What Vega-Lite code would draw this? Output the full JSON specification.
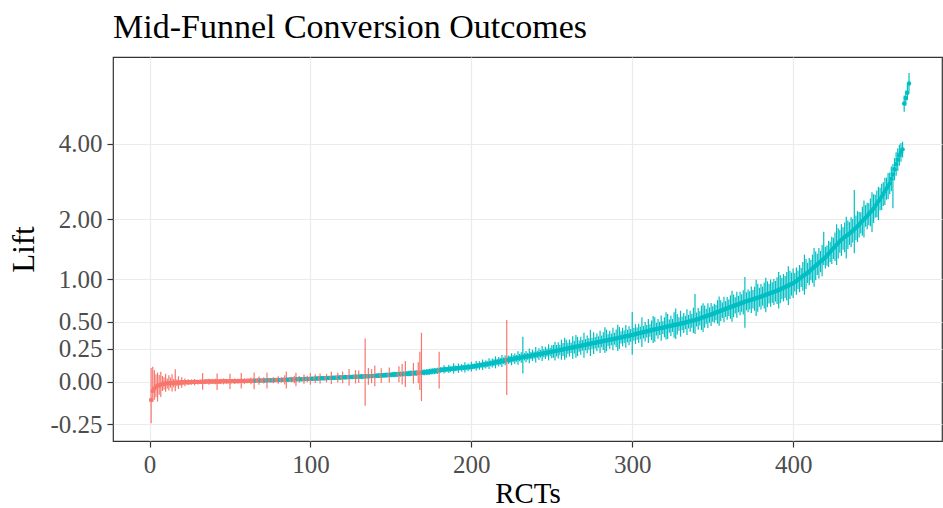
{
  "$schema": "https://vega.github.io/schema/vega-lite/v6.json",
  "width": 829,
  "height": 384,
  "autosize": {"type": "none"},
  "padding": {"left": 113, "top": 57, "right": 1, "bottom": 67},
  "background": "white",
  "title": {
    "text": "Mid-Funnel Conversion Outcomes",
    "anchor": "start",
    "frame": "group",
    "font": "Liberation Serif",
    "fontSize": 34,
    "fontWeight": "normal",
    "color": "#000000",
    "baseline": "alphabetic",
    "offset": 19,
    "dy": 34
  },
  "config": {
    "view": {"stroke": "#333333", "strokeWidth": 1.2},
    "axis": {
      "labelFont": "Liberation Serif",
      "labelFontSize": 25,
      "labelColor": "#4D4D4D",
      "titleFont": "Liberation Serif",
      "titleFontSize": 31,
      "titleFontWeight": "normal",
      "titleColor": "#000000",
      "tickColor": "#333333",
      "tickSize": 6,
      "tickWidth": 1.2,
      "domain": false,
      "gridColor": "#EBEBEB",
      "gridWidth": 1.2,
      "labelPadding": 5,
      "labelFlush": false,
      "labelOverlap": false
    }
  },
  "data": {"values": [
    {"rct":1,"lift":-0.116,"lo":-0.245,"hi":0.097},
    {"rct":2,"lift":-0.060,"lo":-0.128,"hi":0.106},
    {"rct":3,"lift":-0.044,"lo":-0.115,"hi":0.080},
    {"rct":4,"lift":-0.034,"lo":-0.100,"hi":0.052},
    {"rct":5,"lift":-0.027,"lo":-0.125,"hi":0.064},
    {"rct":6,"lift":-0.023,"lo":-0.085,"hi":0.047},
    {"rct":7,"lift":-0.019,"lo":-0.098,"hi":0.070},
    {"rct":8,"lift":-0.016,"lo":-0.060,"hi":0.040},
    {"rct":9,"lift":-0.014,"lo":-0.052,"hi":0.030},
    {"rct":10,"lift":-0.012,"lo":-0.066,"hi":0.056},
    {"rct":11,"lift":-0.011,"lo":-0.045,"hi":0.022},
    {"rct":12,"lift":-0.010,"lo":-0.058,"hi":0.045},
    {"rct":13,"lift":-0.009,"lo":-0.040,"hi":0.028},
    {"rct":14,"lift":-0.008,"lo":-0.064,"hi":0.052},
    {"rct":15,"lift":-0.008,"lo":-0.036,"hi":0.018},
    {"rct":16,"lift":-0.007,"lo":-0.062,"hi":0.088},
    {"rct":17,"lift":-0.006,"lo":-0.030,"hi":0.015},
    {"rct":18,"lift":-0.006,"lo":-0.048,"hi":0.038},
    {"rct":19,"lift":-0.005,"lo":-0.026,"hi":0.012},
    {"rct":20,"lift":-0.005,"lo":-0.040,"hi":0.031},
    {"rct":21,"lift":-0.004,"lo":-0.018,"hi":0.010},
    {"rct":22,"lift":-0.004,"lo":-0.030,"hi":0.022},
    {"rct":23,"lift":-0.003,"lo":-0.015,"hi":0.009},
    {"rct":24,"lift":-0.003,"lo":-0.022,"hi":0.016},
    {"rct":25,"lift":-0.003,"lo":-0.014,"hi":0.008},
    {"rct":26,"lift":-0.002,"lo":-0.020,"hi":0.015},
    {"rct":27,"lift":-0.002,"lo":-0.013,"hi":0.009},
    {"rct":28,"lift":-0.002,"lo":-0.024,"hi":0.019},
    {"rct":29,"lift":-0.001,"lo":-0.012,"hi":0.010},
    {"rct":30,"lift":-0.001,"lo":-0.018,"hi":0.014},
    {"rct":31,"lift":-0.001,"lo":-0.011,"hi":0.009},
    {"rct":32,"lift":0.000,"lo":-0.015,"hi":0.013},
    {"rct":33,"lift":0.000,"lo":-0.052,"hi":0.060},
    {"rct":34,"lift":0.000,"lo":-0.012,"hi":0.011},
    {"rct":35,"lift":0.001,"lo":-0.016,"hi":0.017},
    {"rct":36,"lift":0.001,"lo":-0.010,"hi":0.012},
    {"rct":37,"lift":0.001,"lo":-0.020,"hi":0.021},
    {"rct":38,"lift":0.001,"lo":-0.011,"hi":0.012},
    {"rct":39,"lift":0.001,"lo":-0.014,"hi":0.016},
    {"rct":40,"lift":0.002,"lo":-0.009,"hi":0.013},
    {"rct":41,"lift":0.002,"lo":-0.017,"hi":0.020},
    {"rct":42,"lift":0.002,"lo":-0.054,"hi":0.058},
    {"rct":43,"lift":0.002,"lo":-0.010,"hi":0.014},
    {"rct":44,"lift":0.002,"lo":-0.015,"hi":0.019},
    {"rct":45,"lift":0.003,"lo":-0.008,"hi":0.013},
    {"rct":46,"lift":0.003,"lo":-0.018,"hi":0.022},
    {"rct":47,"lift":0.003,"lo":-0.009,"hi":0.015},
    {"rct":48,"lift":0.003,"lo":-0.013,"hi":0.018},
    {"rct":49,"lift":0.003,"lo":-0.006,"hi":0.012},
    {"rct":50,"lift":0.003,"lo":-0.048,"hi":0.056},
    {"rct":51,"lift":0.004,"lo":-0.011,"hi":0.018},
    {"rct":52,"lift":0.004,"lo":-0.007,"hi":0.014},
    {"rct":53,"lift":0.004,"lo":-0.016,"hi":0.022},
    {"rct":54,"lift":0.004,"lo":-0.006,"hi":0.013},
    {"rct":55,"lift":0.004,"lo":-0.012,"hi":0.020},
    {"rct":56,"lift":0.005,"lo":-0.008,"hi":0.017},
    {"rct":57,"lift":0.005,"lo":-0.045,"hi":0.060},
    {"rct":58,"lift":0.005,"lo":-0.006,"hi":0.015},
    {"rct":59,"lift":0.005,"lo":-0.014,"hi":0.023},
    {"rct":60,"lift":0.005,"lo":-0.004,"hi":0.014},
    {"rct":61,"lift":0.006,"lo":-0.010,"hi":0.021},
    {"rct":62,"lift":0.006,"lo":-0.005,"hi":0.016},
    {"rct":63,"lift":0.006,"lo":-0.017,"hi":0.028},
    {"rct":64,"lift":0.006,"lo":-0.003,"hi":0.015},
    {"rct":65,"lift":0.007,"lo":-0.050,"hi":0.065},
    {"rct":66,"lift":0.0075,"lo":0.002,"hi":0.013},
    {"rct":67,"lift":0.0078,"lo":-0.006,"hi":0.022},
    {"rct":68,"lift":0.0080,"lo":-0.020,"hi":0.036},
    {"rct":69,"lift":0.0083,"lo":0.003,"hi":0.014},
    {"rct":70,"lift":0.0085,"lo":-0.004,"hi":0.021},
    {"rct":71,"lift":0.0088,"lo":-0.012,"hi":0.030},
    {"rct":72,"lift":0.0090,"lo":0.003,"hi":0.015},
    {"rct":73,"lift":0.0093,"lo":-0.045,"hi":0.064},
    {"rct":74,"lift":0.0096,"lo":0.004,"hi":0.015},
    {"rct":75,"lift":0.0100,"lo":-0.005,"hi":0.025},
    {"rct":76,"lift":0.0103,"lo":0.004,"hi":0.017},
    {"rct":77,"lift":0.0107,"lo":-0.010,"hi":0.031},
    {"rct":78,"lift":0.0110,"lo":0.005,"hi":0.017},
    {"rct":79,"lift":0.0113,"lo":-0.003,"hi":0.026},
    {"rct":80,"lift":0.0117,"lo":-0.014,"hi":0.037},
    {"rct":81,"lift":0.0120,"lo":0.005,"hi":0.019},
    {"rct":82,"lift":0.0124,"lo":-0.006,"hi":0.031},
    {"rct":83,"lift":0.0128,"lo":0.006,"hi":0.020},
    {"rct":84,"lift":0.0132,"lo":-0.018,"hi":0.044},
    {"rct":85,"lift":0.0136,"lo":-0.045,"hi":0.072},
    {"rct":86,"lift":0.0140,"lo":0.006,"hi":0.022},
    {"rct":87,"lift":0.0144,"lo":0.007,"hi":0.022},
    {"rct":88,"lift":0.0148,"lo":-0.004,"hi":0.034},
    {"rct":89,"lift":0.0152,"lo":0.007,"hi":0.024},
    {"rct":90,"lift":0.0156,"lo":-0.010,"hi":0.041},
    {"rct":91,"lift":0.0160,"lo":-0.030,"hi":0.062},
    {"rct":92,"lift":0.0164,"lo":0.008,"hi":0.025},
    {"rct":93,"lift":0.0168,"lo":-0.006,"hi":0.040},
    {"rct":94,"lift":0.0172,"lo":0.009,"hi":0.026},
    {"rct":95,"lift":0.0176,"lo":0.008,"hi":0.027},
    {"rct":96,"lift":0.0180,"lo":-0.014,"hi":0.050},
    {"rct":97,"lift":0.0185,"lo":0.009,"hi":0.028},
    {"rct":98,"lift":0.0190,"lo":-0.003,"hi":0.041},
    {"rct":99,"lift":0.0195,"lo":0.010,"hi":0.029},
    {"rct":100,"lift":0.0200,"lo":-0.020,"hi":0.060},
    {"rct":101,"lift":0.0205,"lo":0.011,"hi":0.030},
    {"rct":102,"lift":0.0210,"lo":0.010,"hi":0.032},
    {"rct":103,"lift":0.0215,"lo":-0.008,"hi":0.051},
    {"rct":104,"lift":0.0220,"lo":0.012,"hi":0.032},
    {"rct":105,"lift":0.0225,"lo":0.011,"hi":0.034},
    {"rct":106,"lift":0.0230,"lo":-0.012,"hi":0.058},
    {"rct":107,"lift":0.0235,"lo":0.013,"hi":0.034},
    {"rct":108,"lift":0.0240,"lo":0.012,"hi":0.036},
    {"rct":109,"lift":0.0245,"lo":0.014,"hi":0.035},
    {"rct":110,"lift":0.0250,"lo":-0.004,"hi":0.054},
    {"rct":111,"lift":0.0255,"lo":0.014,"hi":0.037},
    {"rct":112,"lift":0.0260,"lo":0.013,"hi":0.039},
    {"rct":113,"lift":0.0265,"lo":-0.016,"hi":0.070},
    {"rct":114,"lift":0.0270,"lo":0.015,"hi":0.039},
    {"rct":115,"lift":0.0275,"lo":0.016,"hi":0.039},
    {"rct":116,"lift":0.0280,"lo":0.014,"hi":0.042},
    {"rct":117,"lift":0.0285,"lo":-0.006,"hi":0.063},
    {"rct":118,"lift":0.0290,"lo":0.017,"hi":0.041},
    {"rct":119,"lift":0.0295,"lo":0.016,"hi":0.043},
    {"rct":120,"lift":0.0300,"lo":-0.010,"hi":0.072},
    {"rct":121,"lift":0.0305,"lo":0.018,"hi":0.043},
    {"rct":122,"lift":0.0310,"lo":0.017,"hi":0.045},
    {"rct":123,"lift":0.0315,"lo":0.019,"hi":0.044},
    {"rct":124,"lift":0.0320,"lo":-0.025,"hi":0.090},
    {"rct":125,"lift":0.0325,"lo":0.019,"hi":0.046},
    {"rct":126,"lift":0.0330,"lo":0.020,"hi":0.046},
    {"rct":127,"lift":0.0335,"lo":0.018,"hi":0.049},
    {"rct":128,"lift":0.0340,"lo":-0.012,"hi":0.081},
    {"rct":129,"lift":0.0345,"lo":0.021,"hi":0.048},
    {"rct":130,"lift":0.0350,"lo":-0.008,"hi":0.079},
    {"rct":131,"lift":0.0355,"lo":0.022,"hi":0.049},
    {"rct":132,"lift":0.0360,"lo":0.021,"hi":0.051},
    {"rct":133,"lift":0.0365,"lo":0.023,"hi":0.050},
    {"rct":134,"lift":0.0370,"lo":-0.150,"hi":0.340},
    {"rct":135,"lift":0.0375,"lo":0.023,"hi":0.052},
    {"rct":136,"lift":0.0380,"lo":-0.020,"hi":0.098},
    {"rct":137,"lift":0.0385,"lo":0.024,"hi":0.053},
    {"rct":138,"lift":0.0390,"lo":-0.010,"hi":0.089},
    {"rct":139,"lift":0.0395,"lo":0.025,"hi":0.054},
    {"rct":140,"lift":0.0400,"lo":-0.030,"hi":0.115},
    {"rct":141,"lift":0.0408,"lo":0.026,"hi":0.056},
    {"rct":142,"lift":0.0416,"lo":0.027,"hi":0.057},
    {"rct":143,"lift":0.0424,"lo":0.026,"hi":0.059},
    {"rct":144,"lift":0.0432,"lo":-0.008,"hi":0.096},
    {"rct":145,"lift":0.0440,"lo":0.028,"hi":0.060},
    {"rct":146,"lift":0.0448,"lo":0.029,"hi":0.061},
    {"rct":147,"lift":0.0456,"lo":0.028,"hi":0.064},
    {"rct":148,"lift":0.0464,"lo":0.030,"hi":0.063},
    {"rct":149,"lift":0.0472,"lo":-0.005,"hi":0.101},
    {"rct":150,"lift":0.0480,"lo":0.031,"hi":0.065},
    {"rct":151,"lift":0.0488,"lo":0.032,"hi":0.066},
    {"rct":152,"lift":0.0496,"lo":0.031,"hi":0.069},
    {"rct":153,"lift":0.0504,"lo":0.033,"hi":0.068},
    {"rct":154,"lift":0.0512,"lo":0.034,"hi":0.069},
    {"rct":155,"lift":0.0520,"lo":-0.004,"hi":0.110},
    {"rct":156,"lift":0.0528,"lo":0.035,"hi":0.071},
    {"rct":157,"lift":0.0536,"lo":-0.018,"hi":0.128},
    {"rct":158,"lift":0.0544,"lo":0.036,"hi":0.073},
    {"rct":159,"lift":0.0552,"lo":-0.035,"hi":0.150},
    {"rct":160,"lift":0.0560,"lo":0.037,"hi":0.075},
    {"rct":161,"lift":0.0568,"lo":0.038,"hi":0.076},
    {"rct":162,"lift":0.0576,"lo":0.037,"hi":0.079},
    {"rct":163,"lift":0.0584,"lo":0.039,"hi":0.078},
    {"rct":164,"lift":0.0592,"lo":-0.012,"hi":0.135},
    {"rct":165,"lift":0.0600,"lo":0.040,"hi":0.080},
    {"rct":166,"lift":0.0610,"lo":0.041,"hi":0.081},
    {"rct":167,"lift":0.0620,"lo":-0.010,"hi":0.140},
    {"rct":168,"lift":0.0630,"lo":-0.055,"hi":0.225},
    {"rct":169,"lift":0.0640,"lo":-0.122,"hi":0.392},
    {"rct":170,"lift":0.0650,"lo":0.044,"hi":0.086},
    {"rct":171,"lift":0.0660,"lo":0.045,"hi":0.087},
    {"rct":172,"lift":0.0670,"lo":0.046,"hi":0.088},
    {"rct":173,"lift":0.0685,"lo":0.047,"hi":0.090},
    {"rct":174,"lift":0.0700,"lo":0.048,"hi":0.092},
    {"rct":175,"lift":0.0715,"lo":0.050,"hi":0.093},
    {"rct":176,"lift":0.0730,"lo":0.051,"hi":0.095},
    {"rct":177,"lift":0.0745,"lo":0.052,"hi":0.097},
    {"rct":178,"lift":0.0760,"lo":0.054,"hi":0.098},
    {"rct":179,"lift":0.0775,"lo":0.055,"hi":0.100},
    {"rct":180,"lift":0.0790,"lo":-0.044,"hi":0.225},
    {"rct":181,"lift":0.083,"lo":0.062,"hi":0.104},
    {"rct":182,"lift":0.085,"lo":0.070,"hi":0.099},
    {"rct":183,"lift":0.086,"lo":0.058,"hi":0.118},
    {"rct":184,"lift":0.087,"lo":0.066,"hi":0.106},
    {"rct":185,"lift":0.088,"lo":0.072,"hi":0.103},
    {"rct":186,"lift":0.089,"lo":0.060,"hi":0.121},
    {"rct":187,"lift":0.090,"lo":0.069,"hi":0.110},
    {"rct":188,"lift":0.091,"lo":0.075,"hi":0.108},
    {"rct":189,"lift":0.093,"lo":0.057,"hi":0.133},
    {"rct":190,"lift":0.094,"lo":0.073,"hi":0.115},
    {"rct":191,"lift":0.095,"lo":0.078,"hi":0.112},
    {"rct":192,"lift":0.096,"lo":0.062,"hi":0.132},
    {"rct":193,"lift":0.098,"lo":0.080,"hi":0.116},
    {"rct":194,"lift":0.099,"lo":0.070,"hi":0.128},
    {"rct":195,"lift":0.100,"lo":0.083,"hi":0.118},
    {"rct":196,"lift":0.101,"lo":0.065,"hi":0.140},
    {"rct":197,"lift":0.103,"lo":0.084,"hi":0.121},
    {"rct":198,"lift":0.104,"lo":0.076,"hi":0.131},
    {"rct":199,"lift":0.105,"lo":0.087,"hi":0.123},
    {"rct":200,"lift":0.107,"lo":0.072,"hi":0.145},
    {"rct":201,"lift":0.109,"lo":0.088,"hi":0.130},
    {"rct":202,"lift":0.111,"lo":0.091,"hi":0.131},
    {"rct":203,"lift":0.113,"lo":0.078,"hi":0.150},
    {"rct":204,"lift":0.115,"lo":0.094,"hi":0.135},
    {"rct":205,"lift":0.117,"lo":0.085,"hi":0.149},
    {"rct":206,"lift":0.119,"lo":0.099,"hi":0.139},
    {"rct":207,"lift":0.121,"lo":0.082,"hi":0.162},
    {"rct":208,"lift":0.123,"lo":0.101,"hi":0.145},
    {"rct":209,"lift":0.125,"lo":0.094,"hi":0.157},
    {"rct":210,"lift":0.127,"lo":0.106,"hi":0.149},
    {"rct":211,"lift":0.130,"lo":0.090,"hi":0.172},
    {"rct":212,"lift":0.132,"lo":0.110,"hi":0.155},
    {"rct":213,"lift":0.135,"lo":0.101,"hi":0.170},
    {"rct":214,"lift":0.137,"lo":0.112,"hi":0.163},
    {"rct":215,"lift":0.140,"lo":0.095,"hi":0.187},
    {"rct":216,"lift":0.142,"lo":0.118,"hi":0.167},
    {"rct":217,"lift":0.145,"lo":0.109,"hi":0.182},
    {"rct":218,"lift":0.147,"lo":0.122,"hi":0.173},
    {"rct":219,"lift":0.150,"lo":0.104,"hi":0.198},
    {"rct":220,"lift":0.152,"lo":0.127,"hi":0.178},
    {"rct":221,"lift":0.155,"lo":0.118,"hi":0.193},
    {"rct":222,"lift":0.158,"lo":-0.086,"hi":0.517},
    {"rct":223,"lift":0.160,"lo":0.128,"hi":0.193},
    {"rct":224,"lift":0.162,"lo":0.135,"hi":0.190},
    {"rct":225,"lift":0.164,"lo":0.118,"hi":0.212},
    {"rct":226,"lift":0.167,"lo":0.140,"hi":0.195},
    {"rct":227,"lift":0.169,"lo":0.128,"hi":0.211},
    {"rct":228,"lift":0.171,"lo":0.145,"hi":0.198},
    {"rct":229,"lift":0.174,"lo":0.121,"hi":0.229},
    {"rct":230,"lift":0.176,"lo":0.148,"hi":0.205},
    {"rct":231,"lift":0.178,"lo":0.136,"hi":0.221},
    {"rct":232,"lift":0.181,"lo":0.058,"hi":0.356},
    {"rct":233,"lift":0.183,"lo":0.154,"hi":0.213},
    {"rct":234,"lift":0.185,"lo":0.141,"hi":0.231},
    {"rct":235,"lift":0.188,"lo":0.160,"hi":0.217},
    {"rct":236,"lift":0.190,"lo":0.132,"hi":0.251},
    {"rct":237,"lift":0.192,"lo":0.163,"hi":0.222},
    {"rct":238,"lift":0.195,"lo":0.150,"hi":0.242},
    {"rct":239,"lift":0.197,"lo":0.168,"hi":0.227},
    {"rct":240,"lift":0.200,"lo":0.139,"hi":0.264},
    {"rct":241,"lift":0.202,"lo":0.172,"hi":0.233},
    {"rct":242,"lift":0.205,"lo":0.158,"hi":0.254},
    {"rct":243,"lift":0.207,"lo":0.176,"hi":0.239},
    {"rct":244,"lift":0.210,"lo":0.150,"hi":0.273},
    {"rct":245,"lift":0.212,"lo":0.180,"hi":0.245},
    {"rct":246,"lift":0.215,"lo":0.165,"hi":0.267},
    {"rct":247,"lift":0.217,"lo":0.184,"hi":0.251},
    {"rct":248,"lift":0.220,"lo":0.155,"hi":0.288},
    {"rct":249,"lift":0.222,"lo":0.188,"hi":0.257},
    {"rct":250,"lift":0.225,"lo":0.172,"hi":0.280},
    {"rct":251,"lift":0.228,"lo":0.176,"hi":0.283},
    {"rct":252,"lift":0.230,"lo":0.155,"hi":0.310},
    {"rct":253,"lift":0.233,"lo":0.186,"hi":0.281},
    {"rct":254,"lift":0.236,"lo":0.170,"hi":0.305},
    {"rct":255,"lift":0.239,"lo":0.196,"hi":0.283},
    {"rct":256,"lift":0.241,"lo":0.160,"hi":0.328},
    {"rct":257,"lift":0.244,"lo":0.190,"hi":0.300},
    {"rct":258,"lift":0.247,"lo":0.160,"hi":0.345},
    {"rct":259,"lift":0.249,"lo":0.175,"hi":0.329},
    {"rct":260,"lift":0.252,"lo":0.205,"hi":0.301},
    {"rct":261,"lift":0.255,"lo":0.185,"hi":0.330},
    {"rct":262,"lift":0.258,"lo":0.214,"hi":0.303},
    {"rct":263,"lift":0.261,"lo":0.168,"hi":0.360},
    {"rct":264,"lift":0.264,"lo":0.210,"hi":0.320},
    {"rct":265,"lift":0.267,"lo":0.175,"hi":0.372},
    {"rct":266,"lift":0.269,"lo":0.190,"hi":0.354},
    {"rct":267,"lift":0.272,"lo":0.225,"hi":0.321},
    {"rct":268,"lift":0.275,"lo":0.200,"hi":0.355},
    {"rct":269,"lift":0.278,"lo":0.232,"hi":0.326},
    {"rct":270,"lift":0.281,"lo":0.176,"hi":0.393},
    {"rct":271,"lift":0.284,"lo":0.236,"hi":0.334},
    {"rct":272,"lift":0.287,"lo":0.212,"hi":0.367},
    {"rct":273,"lift":0.290,"lo":0.241,"hi":0.341},
    {"rct":274,"lift":0.293,"lo":0.190,"hi":0.420},
    {"rct":275,"lift":0.296,"lo":0.247,"hi":0.347},
    {"rct":276,"lift":0.298,"lo":0.205,"hi":0.398},
    {"rct":277,"lift":0.301,"lo":0.251,"hi":0.353},
    {"rct":278,"lift":0.304,"lo":0.228,"hi":0.385},
    {"rct":279,"lift":0.307,"lo":0.257,"hi":0.359},
    {"rct":280,"lift":0.310,"lo":0.215,"hi":0.412},
    {"rct":281,"lift":0.313,"lo":0.262,"hi":0.366},
    {"rct":282,"lift":0.316,"lo":0.240,"hi":0.397},
    {"rct":283,"lift":0.319,"lo":0.215,"hi":0.445},
    {"rct":284,"lift":0.322,"lo":0.228,"hi":0.422},
    {"rct":285,"lift":0.325,"lo":0.272,"hi":0.380},
    {"rct":286,"lift":0.328,"lo":0.250,"hi":0.410},
    {"rct":287,"lift":0.331,"lo":0.280,"hi":0.384},
    {"rct":288,"lift":0.334,"lo":0.236,"hi":0.440},
    {"rct":289,"lift":0.337,"lo":0.284,"hi":0.392},
    {"rct":290,"lift":0.340,"lo":0.262,"hi":0.423},
    {"rct":291,"lift":0.343,"lo":0.230,"hi":0.470},
    {"rct":292,"lift":0.346,"lo":0.250,"hi":0.448},
    {"rct":293,"lift":0.349,"lo":0.294,"hi":0.406},
    {"rct":294,"lift":0.353,"lo":0.270,"hi":0.440},
    {"rct":295,"lift":0.356,"lo":0.300,"hi":0.413},
    {"rct":296,"lift":0.359,"lo":0.258,"hi":0.466},
    {"rct":297,"lift":0.362,"lo":0.305,"hi":0.421},
    {"rct":298,"lift":0.365,"lo":0.280,"hi":0.455},
    {"rct":299,"lift":0.368,"lo":0.310,"hi":0.428},
    {"rct":300,"lift":0.372,"lo":0.199,"hi":0.602},
    {"rct":301,"lift":0.376,"lo":0.318,"hi":0.437},
    {"rct":302,"lift":0.380,"lo":0.290,"hi":0.475},
    {"rct":303,"lift":0.383,"lo":0.327,"hi":0.442},
    {"rct":304,"lift":0.387,"lo":0.300,"hi":0.480},
    {"rct":305,"lift":0.391,"lo":0.333,"hi":0.452},
    {"rct":306,"lift":0.394,"lo":0.265,"hi":0.545},
    {"rct":307,"lift":0.398,"lo":0.340,"hi":0.459},
    {"rct":308,"lift":0.402,"lo":0.312,"hi":0.497},
    {"rct":309,"lift":0.405,"lo":0.348,"hi":0.466},
    {"rct":310,"lift":0.409,"lo":0.300,"hi":0.527},
    {"rct":311,"lift":0.413,"lo":0.355,"hi":0.474},
    {"rct":312,"lift":0.416,"lo":0.325,"hi":0.512},
    {"rct":313,"lift":0.420,"lo":0.300,"hi":0.560},
    {"rct":314,"lift":0.423,"lo":0.310,"hi":0.545},
    {"rct":315,"lift":0.427,"lo":0.367,"hi":0.490},
    {"rct":316,"lift":0.431,"lo":0.338,"hi":0.529},
    {"rct":317,"lift":0.434,"lo":0.372,"hi":0.499},
    {"rct":318,"lift":0.438,"lo":0.320,"hi":0.565},
    {"rct":319,"lift":0.441,"lo":0.380,"hi":0.505},
    {"rct":320,"lift":0.445,"lo":0.350,"hi":0.545},
    {"rct":321,"lift":0.449,"lo":0.330,"hi":0.600},
    {"rct":322,"lift":0.452,"lo":0.335,"hi":0.580},
    {"rct":323,"lift":0.456,"lo":0.392,"hi":0.522},
    {"rct":324,"lift":0.459,"lo":0.362,"hi":0.562},
    {"rct":325,"lift":0.463,"lo":0.400,"hi":0.529},
    {"rct":326,"lift":0.466,"lo":0.345,"hi":0.598},
    {"rct":327,"lift":0.470,"lo":0.335,"hi":0.640},
    {"rct":328,"lift":0.473,"lo":0.375,"hi":0.578},
    {"rct":329,"lift":0.477,"lo":0.412,"hi":0.545},
    {"rct":330,"lift":0.480,"lo":0.356,"hi":0.615},
    {"rct":331,"lift":0.484,"lo":0.418,"hi":0.553},
    {"rct":332,"lift":0.488,"lo":0.390,"hi":0.592},
    {"rct":333,"lift":0.492,"lo":0.426,"hi":0.561},
    {"rct":334,"lift":0.497,"lo":0.372,"hi":0.632},
    {"rct":335,"lift":0.501,"lo":0.433,"hi":0.572},
    {"rct":336,"lift":0.505,"lo":0.402,"hi":0.614},
    {"rct":337,"lift":0.509,"lo":0.440,"hi":0.581},
    {"rct":338,"lift":0.513,"lo":0.390,"hi":0.648},
    {"rct":339,"lift":0.518,"lo":0.380,"hi":0.810},
    {"rct":340,"lift":0.522,"lo":0.452,"hi":0.596},
    {"rct":341,"lift":0.528,"lo":0.420,"hi":0.645},
    {"rct":342,"lift":0.534,"lo":0.462,"hi":0.610},
    {"rct":343,"lift":0.540,"lo":0.418,"hi":0.673},
    {"rct":344,"lift":0.546,"lo":0.400,"hi":0.700},
    {"rct":345,"lift":0.552,"lo":0.440,"hi":0.673},
    {"rct":346,"lift":0.557,"lo":0.480,"hi":0.638},
    {"rct":347,"lift":0.563,"lo":0.438,"hi":0.700},
    {"rct":348,"lift":0.569,"lo":0.490,"hi":0.652},
    {"rct":349,"lift":0.575,"lo":0.458,"hi":0.702},
    {"rct":350,"lift":0.581,"lo":0.500,"hi":0.666},
    {"rct":351,"lift":0.588,"lo":0.490,"hi":0.693},
    {"rct":352,"lift":0.595,"lo":0.515,"hi":0.679},
    {"rct":353,"lift":0.601,"lo":0.480,"hi":0.735},
    {"rct":354,"lift":0.608,"lo":0.460,"hi":0.780},
    {"rct":355,"lift":0.615,"lo":0.505,"hi":0.733},
    {"rct":356,"lift":0.622,"lo":0.538,"hi":0.709},
    {"rct":357,"lift":0.629,"lo":0.495,"hi":0.775},
    {"rct":358,"lift":0.635,"lo":0.550,"hi":0.723},
    {"rct":359,"lift":0.642,"lo":0.520,"hi":0.773},
    {"rct":360,"lift":0.649,"lo":0.560,"hi":0.742},
    {"rct":361,"lift":0.656,"lo":0.530,"hi":0.792},
    {"rct":362,"lift":0.662,"lo":0.500,"hi":0.850},
    {"rct":363,"lift":0.669,"lo":0.545,"hi":0.803},
    {"rct":364,"lift":0.676,"lo":0.585,"hi":0.771},
    {"rct":365,"lift":0.682,"lo":0.540,"hi":0.836},
    {"rct":366,"lift":0.689,"lo":0.598,"hi":0.785},
    {"rct":367,"lift":0.696,"lo":0.568,"hi":0.835},
    {"rct":368,"lift":0.703,"lo":0.605,"hi":0.805},
    {"rct":369,"lift":0.709,"lo":0.575,"hi":0.855},
    {"rct":370,"lift":0.716,"lo":0.440,"hi":1.030},
    {"rct":371,"lift":0.722,"lo":0.620,"hi":0.830},
    {"rct":372,"lift":0.728,"lo":0.600,"hi":0.866},
    {"rct":373,"lift":0.734,"lo":0.630,"hi":0.844},
    {"rct":374,"lift":0.740,"lo":0.590,"hi":0.904},
    {"rct":375,"lift":0.747,"lo":0.640,"hi":0.859},
    {"rct":376,"lift":0.753,"lo":0.615,"hi":0.901},
    {"rct":377,"lift":0.759,"lo":0.560,"hi":0.990},
    {"rct":378,"lift":0.765,"lo":0.605,"hi":0.940},
    {"rct":379,"lift":0.771,"lo":0.660,"hi":0.888},
    {"rct":380,"lift":0.777,"lo":0.630,"hi":0.935},
    {"rct":381,"lift":0.784,"lo":0.672,"hi":0.902},
    {"rct":382,"lift":0.792,"lo":0.640,"hi":0.955},
    {"rct":383,"lift":0.799,"lo":0.600,"hi":1.020},
    {"rct":384,"lift":0.806,"lo":0.655,"hi":0.970},
    {"rct":385,"lift":0.813,"lo":0.695,"hi":0.938},
    {"rct":386,"lift":0.821,"lo":0.660,"hi":0.995},
    {"rct":387,"lift":0.828,"lo":0.705,"hi":0.958},
    {"rct":388,"lift":0.835,"lo":0.680,"hi":1.002},
    {"rct":389,"lift":0.843,"lo":0.718,"hi":0.975},
    {"rct":390,"lift":0.850,"lo":0.690,"hi":1.025},
    {"rct":391,"lift":0.859,"lo":0.640,"hi":1.100},
    {"rct":392,"lift":0.869,"lo":0.700,"hi":1.052},
    {"rct":393,"lift":0.878,"lo":0.748,"hi":1.015},
    {"rct":394,"lift":0.888,"lo":0.720,"hi":1.070},
    {"rct":395,"lift":0.897,"lo":0.760,"hi":1.042},
    {"rct":396,"lift":0.906,"lo":0.730,"hi":1.100},
    {"rct":397,"lift":0.916,"lo":0.680,"hi":1.180},
    {"rct":398,"lift":0.925,"lo":0.750,"hi":1.115},
    {"rct":399,"lift":0.935,"lo":0.790,"hi":1.090},
    {"rct":400,"lift":0.944,"lo":0.760,"hi":1.150},
    {"rct":401,"lift":0.960,"lo":0.840,"hi":1.085},
    {"rct":402,"lift":0.976,"lo":0.800,"hi":1.165},
    {"rct":403,"lift":0.992,"lo":0.870,"hi":1.120},
    {"rct":404,"lift":1.008,"lo":0.830,"hi":1.200},
    {"rct":405,"lift":1.024,"lo":0.895,"hi":1.160},
    {"rct":406,"lift":1.041,"lo":0.850,"hi":1.245},
    {"rct":407,"lift":1.057,"lo":0.800,"hi":1.360},
    {"rct":408,"lift":1.073,"lo":0.870,"hi":1.290},
    {"rct":409,"lift":1.089,"lo":0.950,"hi":1.235},
    {"rct":410,"lift":1.106,"lo":0.920,"hi":1.305},
    {"rct":411,"lift":1.127,"lo":0.985,"hi":1.278},
    {"rct":412,"lift":1.148,"lo":0.950,"hi":1.360},
    {"rct":413,"lift":1.169,"lo":0.900,"hi":1.470},
    {"rct":414,"lift":1.190,"lo":0.985,"hi":1.410},
    {"rct":415,"lift":1.211,"lo":1.055,"hi":1.375},
    {"rct":416,"lift":1.232,"lo":1.010,"hi":1.470},
    {"rct":417,"lift":1.253,"lo":1.095,"hi":1.420},
    {"rct":418,"lift":1.274,"lo":1.040,"hi":1.520},
    {"rct":419,"lift":1.295,"lo":1.200,"hi":1.755},
    {"rct":420,"lift":1.316,"lo":1.150,"hi":1.490},
    {"rct":421,"lift":1.345,"lo":1.190,"hi":1.510},
    {"rct":422,"lift":1.375,"lo":1.170,"hi":1.590},
    {"rct":423,"lift":1.404,"lo":1.245,"hi":1.575},
    {"rct":424,"lift":1.434,"lo":1.215,"hi":1.665},
    {"rct":425,"lift":1.464,"lo":1.290,"hi":1.645},
    {"rct":426,"lift":1.493,"lo":1.260,"hi":1.740},
    {"rct":427,"lift":1.523,"lo":1.200,"hi":1.900},
    {"rct":428,"lift":1.553,"lo":1.300,"hi":1.820},
    {"rct":429,"lift":1.582,"lo":1.390,"hi":1.785},
    {"rct":430,"lift":1.612,"lo":1.340,"hi":1.900},
    {"rct":431,"lift":1.634,"lo":1.440,"hi":1.840},
    {"rct":432,"lift":1.657,"lo":1.400,"hi":1.930},
    {"rct":433,"lift":1.679,"lo":1.300,"hi":2.050},
    {"rct":434,"lift":1.701,"lo":1.450,"hi":1.970},
    {"rct":435,"lift":1.724,"lo":1.520,"hi":1.940},
    {"rct":436,"lift":1.746,"lo":1.480,"hi":2.040},
    {"rct":437,"lift":1.774,"lo":1.560,"hi":2.000},
    {"rct":438,"lift":1.802,"lo":1.381,"hi":2.650},
    {"rct":439,"lift":1.830,"lo":1.600,"hi":2.075},
    {"rct":440,"lift":1.858,"lo":1.570,"hi":2.165},
    {"rct":441,"lift":1.892,"lo":1.650,"hi":2.150},
    {"rct":442,"lift":1.927,"lo":1.720,"hi":2.145},
    {"rct":443,"lift":1.961,"lo":1.680,"hi":2.260},
    {"rct":444,"lift":1.996,"lo":1.650,"hi":2.400},
    {"rct":445,"lift":2.030,"lo":1.850,"hi":2.300},
    {"rct":446,"lift":2.065,"lo":1.800,"hi":2.350},
    {"rct":447,"lift":2.104,"lo":1.880,"hi":2.340},
    {"rct":448,"lift":2.143,"lo":1.860,"hi":2.450},
    {"rct":449,"lift":2.183,"lo":1.750,"hi":2.600},
    {"rct":450,"lift":2.222,"lo":1.920,"hi":2.550},
    {"rct":451,"lift":2.276,"lo":2.030,"hi":2.535},
    {"rct":452,"lift":2.329,"lo":2.040,"hi":2.640},
    {"rct":453,"lift":2.383,"lo":1.980,"hi":2.730},
    {"rct":454,"lift":2.436,"lo":2.180,"hi":2.710},
    {"rct":455,"lift":2.490,"lo":2.190,"hi":2.810},
    {"rct":456,"lift":2.556,"lo":2.280,"hi":2.850},
    {"rct":457,"lift":2.622,"lo":2.300,"hi":2.970},
    {"rct":458,"lift":2.687,"lo":2.420,"hi":2.970},
    {"rct":459,"lift":2.753,"lo":2.430,"hi":3.100},
    {"rct":460,"lift":2.819,"lo":2.550,"hi":3.110},
    {"rct":461,"lift":2.937,"lo":2.620,"hi":3.280},
    {"rct":462,"lift":3.055,"lo":2.230,"hi":3.350},
    {"rct":463,"lift":3.203,"lo":2.900,"hi":3.530},
    {"rct":464,"lift":3.350,"lo":3.020,"hi":3.710},
    {"rct":465,"lift":3.484,"lo":3.150,"hi":3.840},
    {"rct":466,"lift":3.618,"lo":3.300,"hi":3.960},
    {"rct":467,"lift":3.712,"lo":3.420,"hi":4.020},
    {"rct":468,"lift":3.806,"lo":3.550,"hi":4.060},
    {"rct":469,"lift":5.550,"lo":5.200,"hi":5.920},
    {"rct":470,"lift":5.800,"lo":5.450,"hi":6.150},
    {"rct":471,"lift":6.050,"lo":5.700,"hi":6.450},
    {"rct":472,"lift":6.500,"lo":6.100,"hi":7.050}
  ]},
  "transform": [
    {"calculate": "datum.lift + 1", "as": "ratio"},
    {"calculate": "datum.lo + 1", "as": "ratio_lo"},
    {"calculate": "datum.hi + 1", "as": "ratio_hi"}
  ],
  "encoding": {
    "x": {
      "field": "rct",
      "type": "quantitative",
      "scale": {"domain": [-22.7, 492.5], "nice": false, "zero": false},
      "axis": {"title": "RCTs", "titleFontSize": 29, "values": [0, 100, 200, 300, 400], "format": "d", "titlePadding": 2}
    },
    "color": {"condition": {"test": "datum.lo > 0", "value": "#00BFC4"}, "value": "#F8766D"}
  },
  "layer": [
    {
      "mark": {"type": "rule", "strokeWidth": 1.2},
      "encoding": {
        "y": {
          "field": "ratio_lo",
          "type": "quantitative",
          "scale": {"type": "log", "domain": [0.67, 8.97], "nice": false, "zero": false},
          "axis": {
            "title": "Lift",
            "titlePadding": 9,
            "values": [0.75, 1, 1.25, 1.5, 2, 3, 5],
            "labelExpr": "datum.value < 1 ? '-' + format(1 - datum.value, '.2f') : format(datum.value - 1, '.2f')"
          }
        },
        "y2": {"field": "ratio_hi"}
      }
    },
    {
      "mark": {"type": "point", "filled": true, "size": 20, "opacity": 1},
      "encoding": {
        "y": {
          "field": "ratio",
          "type": "quantitative",
          "scale": {"type": "log", "domain": [0.67, 8.97], "nice": false, "zero": false},
          "axis": {
            "title": "Lift",
            "titlePadding": 9,
            "values": [0.75, 1, 1.25, 1.5, 2, 3, 5],
            "labelExpr": "datum.value < 1 ? '-' + format(1 - datum.value, '.2f') : format(datum.value - 1, '.2f')"
          }
        }
      }
    }
  ]
}
